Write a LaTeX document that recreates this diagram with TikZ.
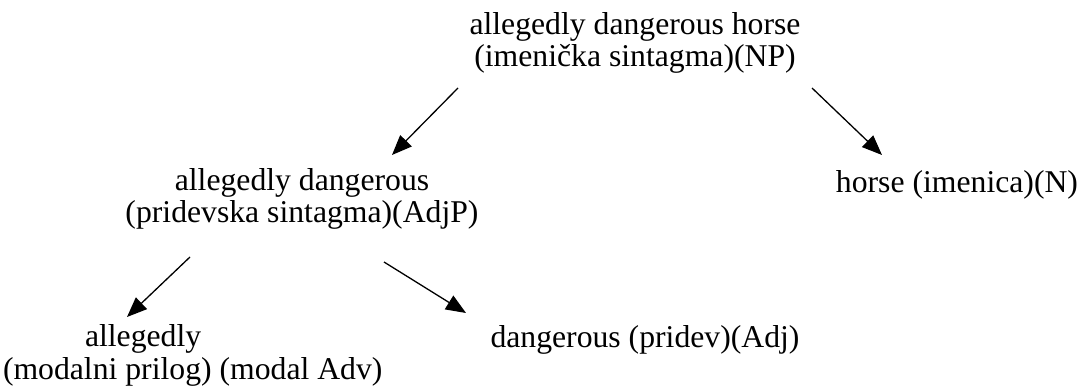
\documentclass[tikz,border=0pt]{standalone}
\usepackage{fontspec}
\setmainfont{Liberation Serif}
\usetikzlibrary{arrows.meta}
\begin{document}
\begin{tikzpicture}[x=1pt,y=1pt,
  lbl/.style={inner sep=0pt,outer sep=0pt,font=\fontsize{31.7}{32.5}\selectfont},
  arr/.style={line width=1.3pt,-{Triangle[length=20pt,width=16pt]}}]
\useasboundingbox (0,0) rectangle (1081,-387);
\node[lbl,align=center,anchor=base] (root) at (635,-67) {allegedly dangerous horse\\(imenička sintagma)(NP)};
\node[lbl,align=center,anchor=base] (adjp) at (302,-223) {allegedly dangerous\\(pridevska sintagma)(AdjP)};
\node[lbl,anchor=base] (horse) at (957,-193) {horse (imenica)(N)};
\node[lbl,align=left,anchor=base west] (adv) at (3,-379) {\hspace*{82pt}allegedly\\(modalni prilog) (modal Adv)};
\node[lbl,anchor=base] (adj) at (645,-347) {dangerous (pridev)(Adj)};
\coordinate (r1) at (458,-88);
\coordinate (r2) at (812,-88);
\coordinate (h1) at (882,-155);
\coordinate (p1) at (392,-155);
\coordinate (a1) at (190,-257);
\coordinate (a2) at (384,-262);
\coordinate (v1) at (127,-317);
\coordinate (d1) at (466,-313);
\draw[arr] (r1) -- (p1);
\draw[arr] (r2) -- (h1);
\draw[arr] (a1) -- (v1);
\draw[arr] (a2) -- (d1);
\end{tikzpicture}
\end{document}
